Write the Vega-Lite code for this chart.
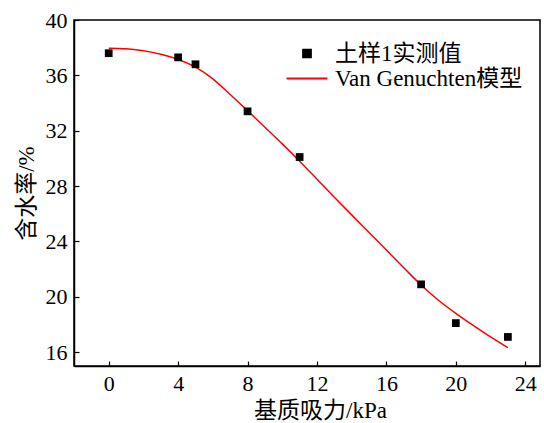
{
  "$schema": "https://vega.github.io/schema/vega-lite/v6.json",
  "width": 466,
  "height": 346,
  "autosize": {"type": "none"},
  "padding": {"left": 74, "top": 20, "right": 4, "bottom": 57},
  "background": "white",
  "config": {
    "view": {"stroke": "black", "strokeWidth": 1.5},
    "font": "Liberation Serif, Noto Sans CJK SC",
    "axis": {
      "grid": false,
      "domainColor": "black",
      "domainWidth": 1.5,
      "tickColor": "black",
      "tickWidth": 1.2,
      "tickSize": -5,
      "labelColor": "black",
      "labelFont": "Liberation Serif, Noto Sans CJK SC",
      "labelFontSize": 22,
      "titleFont": "Liberation Serif, Noto Sans CJK SC",
      "titleFontSize": 23,
      "titleFontWeight": "normal",
      "titleColor": "black"
    }
  },
  "datasets": {
    "points": [
      {"x": 0, "y": 37.6},
      {"x": 4, "y": 37.3},
      {"x": 5, "y": 36.8},
      {"x": 8, "y": 33.4},
      {"x": 11, "y": 30.1},
      {"x": 18, "y": 20.9},
      {"x": 20, "y": 18.1},
      {"x": 23, "y": 17.1}
    ],
    "curve": [
      {"x": 0, "y": 37.96},
      {"x": 1, "y": 37.92},
      {"x": 2, "y": 37.77},
      {"x": 3, "y": 37.52},
      {"x": 4, "y": 37.15},
      {"x": 5, "y": 36.6},
      {"x": 6, "y": 35.75},
      {"x": 7, "y": 34.62},
      {"x": 8, "y": 33.45},
      {"x": 9, "y": 32.25},
      {"x": 10, "y": 31.05},
      {"x": 11, "y": 29.8},
      {"x": 12, "y": 28.5},
      {"x": 13, "y": 27.2},
      {"x": 14, "y": 25.92},
      {"x": 15, "y": 24.65},
      {"x": 16, "y": 23.38},
      {"x": 17, "y": 22.1},
      {"x": 18, "y": 20.85},
      {"x": 19, "y": 19.75},
      {"x": 20, "y": 18.8},
      {"x": 21, "y": 17.93},
      {"x": 22, "y": 17.1},
      {"x": 23, "y": 16.32}
    ]
  },
  "layer": [
    {
      "data": {"name": "curve"},
      "mark": {"type": "line", "strokeWidth": 1.5, "interpolate": "monotone"},
      "encoding": {
        "x": {
          "field": "x", "type": "quantitative",
          "scale": {"domain": [-2, 24.85], "nice": false, "zero": false},
          "axis": {"values": [0, 4, 8, 12, 16, 20, 24], "title": "基质吸力/kPa", "labelPadding": 12, "titlePadding": 5, "titleX": 246}
        },
        "y": {
          "field": "y", "type": "quantitative",
          "scale": {"domain": [15, 40], "nice": false, "zero": false},
          "axis": {"values": [16, 20, 24, 28, 32, 36, 40], "title": "含水率/%", "labelPadding": 12, "titlePadding": 7}
        },
        "color": {
          "datum": "Van Genuchten模型", "type": "nominal",
          "scale": {"domain": ["土样1实测值", "Van Genuchten模型"], "range": ["black", "red"]},
          "legend": {
            "orient": "none", "legendX": 221.5, "legendY": 22, "title": null,
            "symbolSize": 100, "labelFontSize": 23, "labelFont": "Liberation Serif, Noto Sans CJK SC",
            "labelColor": "black", "labelOffset": 16.5, "labelLimit": 400, "rowPadding": 1, "symbolStrokeWidth": 2,
            "encode": {
              "symbols": {
                "update": {
                  "shape": {"signal": "datum.value === '土样1实测值' ? 'square' : 'M-4.1,0H4.1'"},
                  "size": {"signal": "datum.value === '土样1实测值' ? 60 : 100"},
                  "fill": {"signal": "datum.value === '土样1实测值' ? 'black' : 'transparent'"},
                  "stroke": {"signal": "datum.value === '土样1实测值' ? 'transparent' : 'red'"},
                  "opacity": {"value": 1}
                }
              }
            }
          }
        }
      }
    },
    {
      "data": {"name": "points"},
      "mark": {"type": "square", "size": 60, "filled": true, "opacity": 1},
      "encoding": {
        "x": {"field": "x", "type": "quantitative"},
        "y": {"field": "y", "type": "quantitative"},
        "color": {"datum": "土样1实测值", "type": "nominal"}
      }
    }
  ]
}
